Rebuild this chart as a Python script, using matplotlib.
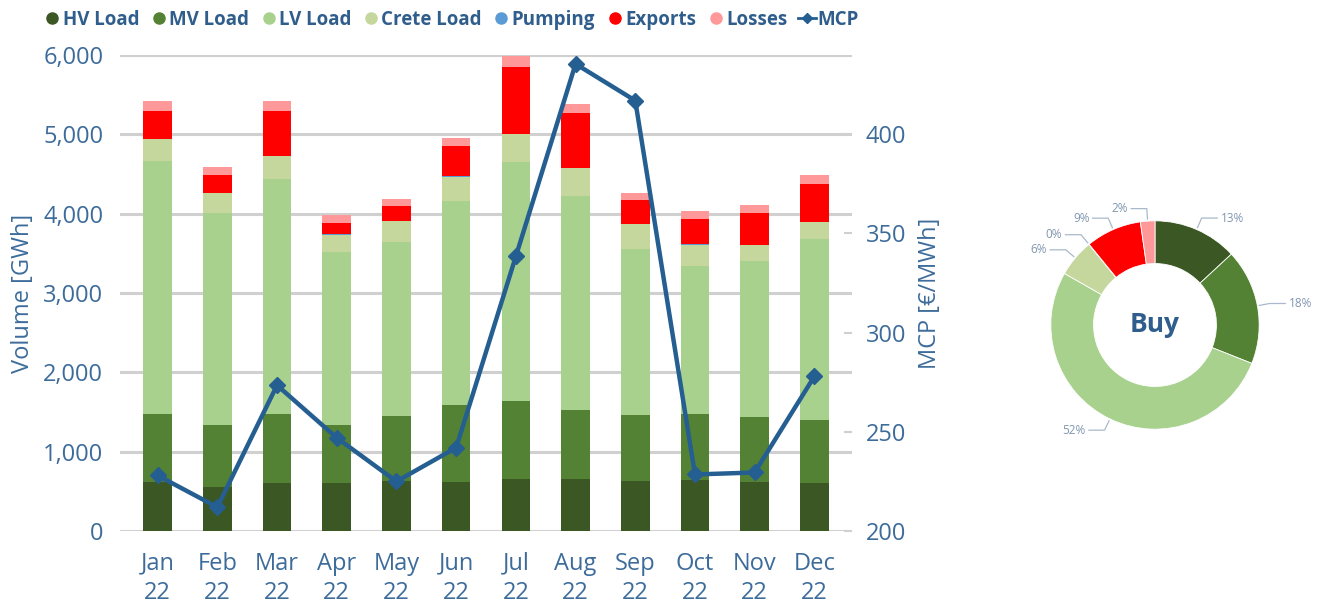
import numpy as np
import matplotlib
matplotlib.use('Agg')
from matplotlib import pyplot as plt
from matplotlib.lines import Line2D

plt.rcParams['font.family'] = ['Open Sans', 'DejaVu Sans']

# monthly volumes [GWh], stacked components
months = ['Jan\n22', 'Feb\n22', 'Mar\n22', 'Apr\n22', 'May\n22', 'Jun\n22',
          'Jul\n22', 'Aug\n22', 'Sep\n22', 'Oct\n22', 'Nov\n22', 'Dec\n22']
hv_load = [620, 558, 600, 608, 633, 620, 650, 650, 633, 641, 620, 604]
mv_load = [852, 784, 872, 734, 822, 965, 989, 880, 830, 831, 814, 801]
lv_load = [3195, 2671, 2960, 2172, 2193, 2570, 3007, 2688, 2088, 1874, 1971, 2276]
crete_load = [272, 243, 289, 222, 260, 310, 352, 361, 315, 264, 201, 218]
pumping = [2, 2, 2, 4, 4, 4, 2, 2, 2, 2, 2, 2]
exports = [355, 233, 573, 143, 189, 378, 853, 685, 304, 325, 400, 472]
losses = [121, 100, 121, 100, 79, 101, 134, 113, 92, 101, 101, 113]
# market clearing price [EUR/MWh]
mcp = [228, 212, 273.5, 247, 225, 242, 338.5, 435.5, 417, 228.5, 229.5, 278]

series = [('HV Load', hv_load, '#3A5724'),
          ('MV Load', mv_load, '#548235'),
          ('LV Load', lv_load, '#A9D18E'),
          ('Crete Load', crete_load, '#C5D79C'),
          ('Pumping', pumping, '#5B9BD5'),
          ('Exports', exports, '#FF0000'),
          ('Losses', losses, '#FF9999')]

txt = '#3D6C9B'
line_c = '#255E91'
grid_c = '#D0D0D0'

fig = plt.figure(figsize=(13.22, 6.10), dpi=100)
ax = fig.add_axes([120/1322, 1-531/610, 732/1322, 476/610])
ax2 = ax.twinx()

x = np.arange(len(months))
bottom = np.zeros(len(months))
for name, vals, col in series:
    ax.bar(x, vals, 0.48, bottom=bottom, color=col, zorder=2)
    bottom += np.array(vals)

ax.set_ylim(0, 6000)
ax.set_xlim(-0.63, 11.63)
ax.set_yticks(np.arange(0, 6001, 1000))
ax.set_yticklabels([f'{v:,}' for v in range(0, 6001, 1000)])
ax.set_xticks(x)
ax.set_xticklabels(months, linespacing=1.3)
ax.grid(axis='y', color=grid_c, linewidth=2.2, zorder=0)
ax.set_axisbelow(True)
for s in ax.spines.values():
    s.set_visible(False)
for s in ax2.spines.values():
    s.set_visible(False)
ax.tick_params(axis='both', length=0, labelsize=17, colors=txt)
ax.tick_params(axis='x', pad=15)
ax.tick_params(axis='y', pad=12)
ax.set_ylabel('Volume [GWh]', fontsize=17, color=txt, labelpad=6)

ax2.plot(x, mcp, color=line_c, linewidth=3.2, marker='D', markersize=8, zorder=5)
ax2.set_ylim(200, 440)
ax2.set_yticks([200, 250, 300, 350, 400])
ax2.tick_params(axis='y', direction='in', length=6, width=1.5, color=grid_c,
                labelsize=17, labelcolor=txt, pad=10)
ax2.set_ylabel('MCP [€/MWh]', fontsize=17, color=txt, labelpad=8)

# legend
handles = [Line2D([], [], linestyle='none', marker='o', markersize=8, color=c, label=n)
           for n, v, c in series]
handles.append(Line2D([], [], color=line_c, linewidth=2, marker='D', markersize=5, label='MCP'))
leg = fig.legend(handles=handles, loc='upper center', bbox_to_anchor=(0.341, 1.012), ncol=8,
                 frameon=False, handletextpad=0.05, columnspacing=0.55, handlelength=1.0,
                 prop={'weight': 'bold', 'size': 13.5})
for t in leg.get_texts():
    t.set_color('#2F5D8C')

# donut
pax = fig.add_axes([(1155-150)/1322, 1-(325+150)/610, 300/1322, 300/610])
totals = [sum(v) for n, v, c in series]
wedges, _ = pax.pie(totals, colors=[c for n, v, c in series], startangle=90, counterclock=False,
                    radius=1.0, wedgeprops=dict(width=0.41, edgecolor='white', linewidth=0.6))
pax.set_xlim(-1.44, 1.44)
pax.set_ylim(-1.44, 1.44)
pax.set_aspect('equal')
pax.axis('off')
pax.text(0, 0, 'Buy', ha='center', va='center', fontsize=19, fontweight='bold', color='#2F5D8C')

share = np.array(totals) / sum(totals) * 100
for w, p in zip(wedges, share):
    ang = np.deg2rad((w.theta1 + w.theta2) / 2)
    c, s = np.cos(ang), np.sin(ang)
    p0 = (1.02 * c, 1.02 * s)
    p1 = (1.12 * c, 1.12 * s)
    sgn = 1 if c >= 0 else -1
    p2 = (p1[0] + sgn * 0.15, p1[1])
    pax.plot([p0[0], p1[0], p2[0]], [p0[1], p1[1], p2[1]], color='#A9B9CB', linewidth=0.9,
             clip_on=False)
    pax.text(p2[0] + sgn * 0.03, p2[1], f'{p:.0f}%', ha='left' if sgn > 0 else 'right',
             va='center', fontsize=8.5, color='#8096B0')

plt.savefig('out.png', dpi=100)
